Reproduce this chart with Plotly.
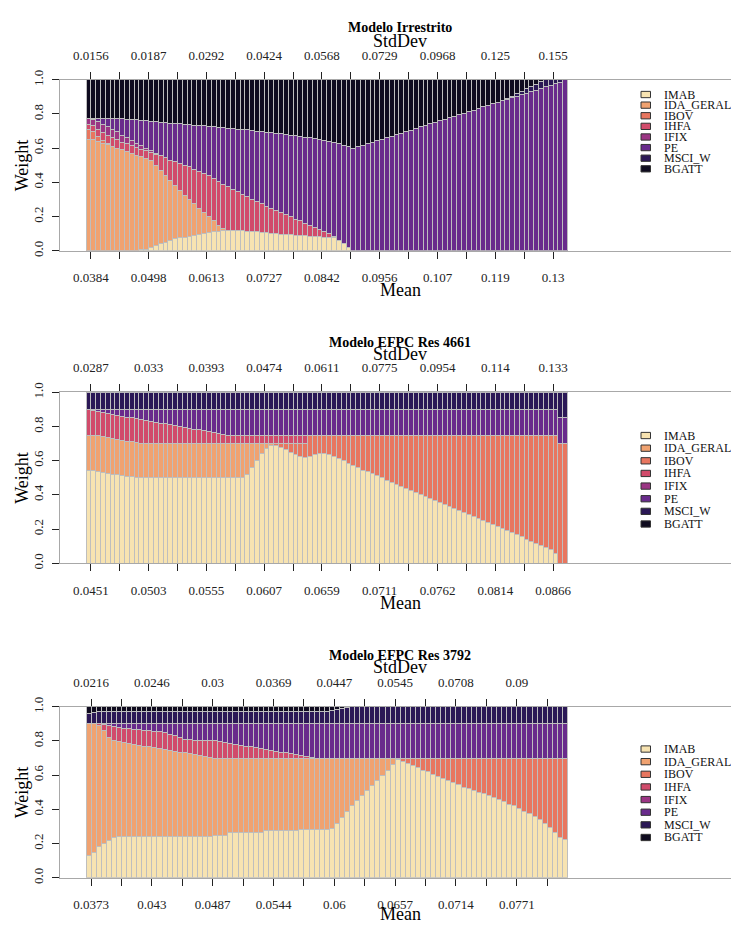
import plotly.graph_objects as go

W, H = 731, 927
FONT = "Liberation Serif"

assets = ["IMAB", "IDA_GERAL", "IBOV", "IHFA", "IFIX", "PE", "MSCI_W", "BGATT"]
colors = ["#F7E3B1", "#F0A270", "#E8765F", "#D14B6B", "#9B3584", "#692B8C", "#2B1856", "#0F0B1F"]

# ---------------- Panel 1: Modelo Irrestrito (100 frontier points) ----------------
p1_mean_labels = ["0.0384", "0.0498", "0.0613", "0.0727", "0.0842", "0.0956", "0.107", "0.119", "0.13"]
p1_std_labels = ["0.0156", "0.0187", "0.0292", "0.0424", "0.0568", "0.0729", "0.0968", "0.125", "0.155"]

p1_imab = [
    0, 0, 0, 0, 0, 0, 0, 0, 0, 0,
    0, 0.005, 0.01, 0.02, 0.03, 0.04, 0.05, 0.06, 0.07, 0.075,
    0.08, 0.085, 0.09, 0.095, 0.10, 0.105, 0.11, 0.115, 0.12, 0.12,
    0.12, 0.118, 0.116, 0.114, 0.112, 0.11, 0.108, 0.105, 0.102, 0.10,
    0.098, 0.096, 0.094, 0.092, 0.09, 0.088, 0.086, 0.084, 0.082, 0.08,
    0.078, 0.075, 0.06, 0.04, 0.02, 0, 0, 0, 0, 0,
    0, 0, 0, 0, 0, 0, 0, 0, 0, 0,
    0, 0, 0, 0, 0, 0, 0, 0, 0, 0,
    0, 0, 0, 0, 0, 0, 0, 0, 0, 0,
    0, 0, 0, 0, 0, 0, 0, 0, 0, 0,
]
p1_ida = [
    0.65, 0.65, 0.64, 0.63, 0.62, 0.61, 0.60, 0.59, 0.58, 0.57,
    0.56, 0.545, 0.53, 0.51, 0.47, 0.43, 0.39, 0.35, 0.31, 0.275,
    0.245, 0.215, 0.185, 0.155, 0.125, 0.095, 0.065, 0.035, 0.01, 0,
    0, 0, 0, 0, 0, 0, 0, 0, 0, 0,
    0, 0, 0, 0, 0, 0, 0, 0, 0, 0,
    0, 0, 0, 0, 0, 0, 0, 0, 0, 0,
    0, 0, 0, 0, 0, 0, 0, 0, 0, 0,
    0, 0, 0, 0, 0, 0, 0, 0, 0, 0,
    0, 0, 0, 0, 0, 0, 0, 0, 0, 0,
    0, 0, 0, 0, 0, 0, 0, 0, 0, 0,
]
p1_ibov = [
    0.06, 0.045, 0.03, 0.015, 0.005, 0, 0, 0, 0, 0,
    0, 0, 0, 0, 0, 0, 0, 0, 0, 0,
    0, 0, 0, 0, 0, 0, 0, 0, 0, 0,
    0, 0, 0, 0, 0, 0, 0, 0, 0, 0,
    0, 0, 0, 0, 0, 0, 0, 0, 0, 0,
    0, 0, 0, 0, 0, 0, 0, 0, 0, 0,
    0, 0, 0, 0, 0, 0, 0, 0, 0, 0,
    0, 0, 0, 0, 0, 0, 0, 0, 0, 0,
    0, 0, 0, 0, 0, 0, 0, 0, 0, 0,
    0, 0, 0, 0, 0, 0, 0, 0, 0, 0,
]
p1_ihfa = [
    0.03, 0.035, 0.04, 0.045, 0.05, 0.05, 0.05, 0.045, 0.045, 0.045,
    0.045, 0.045, 0.045, 0.045, 0.065, 0.085, 0.105, 0.12, 0.14, 0.16,
    0.175, 0.19, 0.20, 0.215, 0.225, 0.24, 0.245, 0.255, 0.26, 0.255,
    0.24, 0.227, 0.214, 0.201, 0.188, 0.18, 0.167, 0.155, 0.148, 0.135,
    0.127, 0.114, 0.106, 0.093, 0.085, 0.072, 0.064, 0.051, 0.043, 0.03,
    0.022, 0.01, 0, 0, 0, 0, 0, 0, 0, 0,
    0, 0, 0, 0, 0, 0, 0, 0, 0, 0,
    0, 0, 0, 0, 0, 0, 0, 0, 0, 0,
    0, 0, 0, 0, 0, 0, 0, 0, 0, 0,
    0, 0, 0, 0, 0, 0, 0, 0, 0, 0,
]
p1_ifix = [
    0.035, 0.04, 0.045, 0.05, 0.05, 0.05, 0.045, 0.04, 0.035, 0.03,
    0.025, 0.02, 0.015, 0.01, 0.005, 0, 0, 0, 0, 0,
    0, 0, 0, 0, 0, 0, 0, 0, 0, 0,
    0, 0, 0, 0, 0, 0, 0, 0, 0, 0,
    0, 0, 0, 0, 0, 0, 0, 0, 0, 0,
    0, 0, 0, 0, 0, 0, 0, 0, 0, 0,
    0, 0, 0, 0, 0, 0, 0, 0, 0, 0,
    0, 0, 0, 0, 0, 0, 0, 0, 0, 0,
    0, 0, 0, 0, 0, 0, 0, 0, 0, 0,
    0, 0, 0, 0, 0, 0, 0, 0, 0, 0,
]
p1_pe = [
    0, 0.005, 0.02, 0.035, 0.05, 0.065, 0.079, 0.097, 0.11, 0.122,
    0.135, 0.147, 0.16, 0.172, 0.185, 0.197, 0.205, 0.217, 0.225, 0.232,
    0.24, 0.247, 0.26, 0.267, 0.28, 0.287, 0.305, 0.317, 0.33, 0.342,
    0.355, 0.367, 0.38, 0.392, 0.405, 0.41, 0.422, 0.433, 0.44, 0.451,
    0.458, 0.47, 0.476, 0.487, 0.493, 0.504, 0.51, 0.52, 0.525, 0.535,
    0.54, 0.548, 0.565, 0.577, 0.588, 0.598, 0.607, 0.616, 0.625, 0.634,
    0.643, 0.652, 0.661, 0.670, 0.679, 0.688, 0.697, 0.706, 0.715, 0.724,
    0.733, 0.742, 0.751, 0.760, 0.769, 0.778, 0.787, 0.796, 0.805, 0.814,
    0.823, 0.832, 0.841, 0.850, 0.859, 0.868, 0.877, 0.886, 0.895, 0.904,
    0.913, 0.922, 0.931, 0.940, 0.949, 0.958, 0.967, 0.976, 0.985, 1.0,
]
p1_msci = [
    0, 0, 0, 0, 0, 0, 0, 0, 0, 0,
    0, 0, 0, 0, 0, 0, 0, 0, 0, 0,
    0, 0, 0, 0, 0, 0, 0, 0, 0, 0,
    0, 0, 0, 0, 0, 0, 0, 0, 0, 0,
    0, 0, 0, 0, 0, 0, 0, 0, 0, 0,
    0, 0, 0, 0, 0, 0, 0, 0, 0, 0,
    0, 0, 0, 0, 0, 0, 0, 0, 0, 0,
    0, 0, 0, 0, 0, 0, 0, 0, 0, 0,
    0, 0, 0, 0, 0, 0, 0, 0.005, 0.01, 0.015,
    0.02, 0.025, 0.03, 0.035, 0.04, 0.042, 0.033, 0.024, 0.015, 0,
]
p1_bgatt = [
    0.225, 0.225, 0.225, 0.225, 0.225, 0.225, 0.226, 0.228, 0.23, 0.233,
    0.235, 0.238, 0.24, 0.243, 0.245, 0.248, 0.25, 0.253, 0.255, 0.258,
    0.26, 0.263, 0.265, 0.268, 0.27, 0.273, 0.275, 0.278, 0.28, 0.283,
    0.285, 0.288, 0.29, 0.293, 0.295, 0.30, 0.303, 0.307, 0.31, 0.314,
    0.317, 0.32, 0.324, 0.328, 0.332, 0.336, 0.34, 0.345, 0.35, 0.355,
    0.36, 0.367, 0.375, 0.383, 0.392, 0.402, 0.393, 0.384, 0.375, 0.366,
    0.357, 0.348, 0.339, 0.330, 0.321, 0.312, 0.303, 0.294, 0.285, 0.276,
    0.267, 0.258, 0.249, 0.240, 0.231, 0.222, 0.213, 0.204, 0.195, 0.186,
    0.177, 0.168, 0.159, 0.150, 0.141, 0.132, 0.123, 0.109, 0.095, 0.081,
    0.067, 0.053, 0.039, 0.025, 0.011, 0, 0, 0, 0, 0,
]

# ---------------- Panel 2: Modelo EFPC Res 4661 (100 frontier points) ----------------
p2_mean_labels = ["0.0451", "0.0503", "0.0555", "0.0607", "0.0659", "0.0711", "0.0762", "0.0814", "0.0866"]
p2_std_labels = ["0.0287", "0.033", "0.0393", "0.0474", "0.0611", "0.0775", "0.0954", "0.114", "0.133"]

p2_imab = [
    0.545, 0.545, 0.535, 0.53, 0.525, 0.52, 0.52, 0.515, 0.51, 0.505,
    0.50, 0.50, 0.50, 0.50, 0.50, 0.50, 0.50, 0.50, 0.50, 0.50,
    0.50, 0.50, 0.50, 0.50, 0.50, 0.50, 0.50, 0.50, 0.50, 0.50,
    0.50, 0.50, 0.50, 0.52, 0.56, 0.60, 0.64, 0.67, 0.69, 0.69,
    0.68, 0.665, 0.65, 0.635, 0.625, 0.62, 0.625, 0.635, 0.64, 0.64,
    0.635, 0.625, 0.61, 0.60, 0.585, 0.57, 0.56, 0.545, 0.535, 0.523,
    0.511, 0.499, 0.487, 0.475, 0.463, 0.451, 0.44, 0.428, 0.416, 0.404,
    0.392, 0.38, 0.368, 0.356, 0.344, 0.333, 0.321, 0.309, 0.297, 0.285,
    0.273, 0.261, 0.249, 0.237, 0.225, 0.214, 0.202, 0.19, 0.178, 0.166,
    0.154, 0.142, 0.13, 0.118, 0.106, 0.094, 0.082, 0.06, 0, 0,
]
p2_ida = [
    0.205, 0.203, 0.21, 0.21, 0.21, 0.21, 0.205, 0.205, 0.205, 0.205,
    0.205, 0.20, 0.20, 0.20, 0.20, 0.20, 0.20, 0.20, 0.20, 0.20,
    0.20, 0.20, 0.20, 0.20, 0.20, 0.20, 0.20, 0.20, 0.20, 0.20,
    0.20, 0.20, 0.20, 0.18, 0.14, 0.10, 0.06, 0.03, 0.01, 0,
    0, 0, 0, 0, 0, 0, 0, 0, 0, 0,
    0, 0, 0, 0, 0, 0, 0, 0, 0, 0,
    0, 0, 0, 0, 0, 0, 0, 0, 0, 0,
    0, 0, 0, 0, 0, 0, 0, 0, 0, 0,
    0, 0, 0, 0, 0, 0, 0, 0, 0, 0,
    0, 0, 0, 0, 0, 0, 0, 0, 0, 0,
]
p2_ibov = [
    0, 0, 0, 0, 0, 0, 0, 0, 0, 0,
    0, 0, 0, 0, 0, 0, 0, 0, 0, 0,
    0, 0, 0, 0, 0, 0, 0, 0, 0, 0,
    0, 0, 0, 0, 0, 0, 0, 0, 0, 0.01,
    0.02, 0.035, 0.05, 0.065, 0.075, 0.08, 0.125, 0.115, 0.11, 0.11,
    0.115, 0.125, 0.14, 0.15, 0.165, 0.18, 0.19, 0.205, 0.215, 0.227,
    0.239, 0.251, 0.263, 0.275, 0.287, 0.299, 0.31, 0.322, 0.334, 0.346,
    0.358, 0.37, 0.382, 0.394, 0.406, 0.417, 0.429, 0.441, 0.453, 0.465,
    0.477, 0.489, 0.501, 0.513, 0.525, 0.536, 0.548, 0.56, 0.572, 0.584,
    0.596, 0.608, 0.62, 0.632, 0.644, 0.656, 0.668, 0.69, 0.70, 0.70,
]
p2_ihfa = [
    0.15, 0.147, 0.14, 0.14, 0.14, 0.14, 0.14, 0.14, 0.14, 0.14,
    0.14, 0.14, 0.135, 0.13, 0.125, 0.12, 0.115, 0.11, 0.105, 0.10,
    0.095, 0.09, 0.085, 0.08, 0.075, 0.07, 0.065, 0.06, 0.055, 0.05,
    0.05, 0.05, 0.05, 0.05, 0.05, 0.05, 0.05, 0.05, 0.05, 0.05,
    0.05, 0.05, 0.05, 0.05, 0.05, 0.05, 0, 0, 0, 0,
    0, 0, 0, 0, 0, 0, 0, 0, 0, 0,
    0, 0, 0, 0, 0, 0, 0, 0, 0, 0,
    0, 0, 0, 0, 0, 0, 0, 0, 0, 0,
    0, 0, 0, 0, 0, 0, 0, 0, 0, 0,
    0, 0, 0, 0, 0, 0, 0, 0, 0, 0,
]
p2_ifix = [
    0, 0, 0, 0, 0, 0, 0, 0, 0, 0,
    0, 0, 0, 0, 0, 0, 0, 0, 0, 0,
    0, 0, 0, 0, 0, 0, 0, 0, 0, 0,
    0, 0, 0, 0, 0, 0, 0, 0, 0, 0,
    0, 0, 0, 0, 0, 0, 0, 0, 0, 0,
    0, 0, 0, 0, 0, 0, 0, 0, 0, 0,
    0, 0, 0, 0, 0, 0, 0, 0, 0, 0,
    0, 0, 0, 0, 0, 0, 0, 0, 0, 0,
    0, 0, 0, 0, 0, 0, 0, 0, 0, 0,
    0, 0, 0, 0, 0, 0, 0, 0, 0, 0,
]
p2_pe = [
    0, 0.005, 0.015, 0.02, 0.025, 0.03, 0.035, 0.04, 0.045, 0.05,
    0.055, 0.06, 0.065, 0.07, 0.075, 0.08, 0.085, 0.09, 0.095, 0.10,
    0.105, 0.11, 0.115, 0.12, 0.125, 0.13, 0.135, 0.14, 0.145, 0.15,
    0.15, 0.15, 0.15, 0.15, 0.15, 0.15, 0.15, 0.15, 0.15, 0.15,
    0.15, 0.15, 0.15, 0.15, 0.15, 0.15, 0.15, 0.15, 0.15, 0.15,
    0.15, 0.15, 0.15, 0.15, 0.15, 0.15, 0.15, 0.15, 0.15, 0.15,
    0.15, 0.15, 0.15, 0.15, 0.15, 0.15, 0.15, 0.15, 0.15, 0.15,
    0.15, 0.15, 0.15, 0.15, 0.15, 0.15, 0.15, 0.15, 0.15, 0.15,
    0.15, 0.15, 0.15, 0.15, 0.15, 0.15, 0.15, 0.15, 0.15, 0.15,
    0.15, 0.15, 0.15, 0.15, 0.15, 0.15, 0.15, 0.15, 0.15, 0.15,
]
p2_msci = [
    0.10, 0.10, 0.10, 0.10, 0.10, 0.10, 0.10, 0.10, 0.10, 0.10,
    0.10, 0.10, 0.10, 0.10, 0.10, 0.10, 0.10, 0.10, 0.10, 0.10,
    0.10, 0.10, 0.10, 0.10, 0.10, 0.10, 0.10, 0.10, 0.10, 0.10,
    0.10, 0.10, 0.10, 0.10, 0.10, 0.10, 0.10, 0.10, 0.10, 0.10,
    0.10, 0.10, 0.10, 0.10, 0.10, 0.10, 0.10, 0.10, 0.10, 0.10,
    0.10, 0.10, 0.10, 0.10, 0.10, 0.10, 0.10, 0.10, 0.10, 0.10,
    0.10, 0.10, 0.10, 0.10, 0.10, 0.10, 0.10, 0.10, 0.10, 0.10,
    0.10, 0.10, 0.10, 0.10, 0.10, 0.10, 0.10, 0.10, 0.10, 0.10,
    0.10, 0.10, 0.10, 0.10, 0.10, 0.10, 0.10, 0.10, 0.10, 0.10,
    0.10, 0.10, 0.10, 0.10, 0.10, 0.10, 0.10, 0.10, 0.15, 0.15,
]
p2_bgatt = [
    0, 0, 0, 0, 0, 0, 0, 0, 0, 0,
    0, 0, 0, 0, 0, 0, 0, 0, 0, 0,
    0, 0, 0, 0, 0, 0, 0, 0, 0, 0,
    0, 0, 0, 0, 0, 0, 0, 0, 0, 0,
    0, 0, 0, 0, 0, 0, 0, 0, 0, 0,
    0, 0, 0, 0, 0, 0, 0, 0, 0, 0,
    0, 0, 0, 0, 0, 0, 0, 0, 0, 0,
    0, 0, 0, 0, 0, 0, 0, 0, 0, 0,
    0, 0, 0, 0, 0, 0, 0, 0, 0, 0,
    0, 0, 0, 0, 0, 0, 0, 0, 0, 0,
]

# ---------------- Panel 3: Modelo EFPC Res 3792 (95 frontier points) ----------------
p3_mean_labels = ["0.0373", "0.043", "0.0487", "0.0544", "0.06", "0.0657", "0.0714", "0.0771"]
p3_std_labels = ["0.0216", "0.0246", "0.03", "0.0369", "0.0447", "0.0545", "0.0708", "0.09"]

p3_imab = [
    0.13, 0.15, 0.18, 0.20, 0.22, 0.235, 0.24, 0.24, 0.24, 0.24,
    0.24, 0.24, 0.24, 0.24, 0.24, 0.24, 0.24, 0.24, 0.24, 0.24,
    0.24, 0.24, 0.24, 0.24, 0.24, 0.25, 0.25, 0.25, 0.265, 0.265,
    0.265, 0.265, 0.265, 0.265, 0.265, 0.275, 0.275, 0.275, 0.275, 0.275,
    0.275, 0.275, 0.285, 0.285, 0.285, 0.285, 0.285, 0.285, 0.29, 0.32,
    0.35, 0.39, 0.42, 0.45, 0.48, 0.51, 0.54, 0.57, 0.60, 0.63,
    0.66, 0.69, 0.68, 0.67, 0.655, 0.645, 0.63, 0.62, 0.605, 0.595,
    0.58, 0.57, 0.555, 0.545, 0.53, 0.52, 0.51, 0.50, 0.49, 0.48,
    0.47, 0.455, 0.445, 0.43, 0.42, 0.405, 0.39, 0.375, 0.36, 0.34,
    0.32, 0.295, 0.265, 0.235, 0.225,
]
p3_ida = [
    0.77, 0.75, 0.71, 0.66, 0.60, 0.565, 0.555, 0.55, 0.545, 0.54,
    0.535, 0.53, 0.525, 0.52, 0.515, 0.51, 0.505, 0.50, 0.495, 0.49,
    0.485, 0.48, 0.475, 0.47, 0.465, 0.45, 0.45, 0.45, 0.435, 0.435,
    0.435, 0.435, 0.435, 0.435, 0.435, 0.425, 0.425, 0.425, 0.425, 0.425,
    0.425, 0.425, 0.415, 0.415, 0.415, 0.415, 0.415, 0.415, 0.41, 0.38,
    0.35, 0.31, 0.28, 0.25, 0.22, 0.19, 0.16, 0.13, 0.10, 0.07,
    0.04, 0.01, 0, 0, 0, 0, 0, 0, 0, 0,
    0, 0, 0, 0, 0, 0, 0, 0, 0, 0,
    0, 0, 0, 0, 0, 0, 0, 0, 0, 0,
    0, 0, 0, 0, 0,
]
p3_ibov = [
    0, 0, 0, 0, 0, 0, 0, 0, 0, 0,
    0, 0, 0, 0, 0, 0, 0, 0, 0, 0,
    0, 0, 0, 0, 0, 0, 0, 0, 0, 0,
    0, 0, 0, 0, 0, 0, 0, 0, 0, 0,
    0, 0, 0, 0, 0, 0, 0, 0, 0, 0,
    0, 0, 0, 0, 0, 0, 0, 0, 0, 0,
    0, 0, 0.02, 0.03, 0.045, 0.055, 0.07, 0.08, 0.095, 0.105,
    0.12, 0.13, 0.145, 0.155, 0.17, 0.18, 0.19, 0.20, 0.21, 0.22,
    0.23, 0.245, 0.255, 0.27, 0.28, 0.295, 0.31, 0.325, 0.34, 0.36,
    0.38, 0.405, 0.435, 0.465, 0.475,
]
p3_ihfa = [
    0, 0, 0.01, 0.035, 0.07, 0.085, 0.085, 0.085, 0.085, 0.088,
    0.09, 0.092, 0.095, 0.097, 0.099, 0.10, 0.095, 0.09, 0.085, 0.08,
    0.082, 0.085, 0.087, 0.09, 0.095, 0.10, 0.095, 0.09, 0.085, 0.08,
    0.075, 0.07, 0.065, 0.06, 0.055, 0.05, 0.045, 0.04, 0.035, 0.03,
    0.025, 0.02, 0.015, 0.01, 0.005, 0, 0, 0, 0, 0,
    0, 0, 0, 0, 0, 0, 0, 0, 0, 0,
    0, 0, 0, 0, 0, 0, 0, 0, 0, 0,
    0, 0, 0, 0, 0, 0, 0, 0, 0, 0,
    0, 0, 0, 0, 0, 0, 0, 0, 0, 0,
    0, 0, 0, 0, 0,
]
p3_ifix = [
    0, 0, 0, 0, 0, 0, 0, 0, 0, 0,
    0, 0, 0, 0, 0, 0, 0, 0, 0, 0,
    0, 0, 0, 0, 0, 0, 0, 0, 0, 0,
    0, 0, 0, 0, 0, 0, 0, 0, 0, 0,
    0, 0, 0, 0, 0, 0, 0, 0, 0, 0,
    0, 0, 0, 0, 0, 0, 0, 0, 0, 0,
    0, 0, 0, 0, 0, 0, 0, 0, 0, 0,
    0, 0, 0, 0, 0, 0, 0, 0, 0, 0,
    0, 0, 0, 0, 0, 0, 0, 0, 0, 0,
    0, 0, 0, 0, 0,
]
p3_pe = [
    0, 0, 0, 0.005, 0.01, 0.015, 0.02, 0.025, 0.03, 0.032,
    0.035, 0.038, 0.04, 0.043, 0.046, 0.05, 0.06, 0.07, 0.08, 0.09,
    0.093, 0.095, 0.098, 0.10, 0.10, 0.10, 0.105, 0.11, 0.115, 0.12,
    0.125, 0.13, 0.135, 0.14, 0.145, 0.15, 0.155, 0.16, 0.165, 0.17,
    0.175, 0.18, 0.185, 0.19, 0.195, 0.20, 0.20, 0.20, 0.20, 0.20,
    0.20, 0.20, 0.20, 0.20, 0.20, 0.20, 0.20, 0.20, 0.20, 0.20,
    0.20, 0.20, 0.20, 0.20, 0.20, 0.20, 0.20, 0.20, 0.20, 0.20,
    0.20, 0.20, 0.20, 0.20, 0.20, 0.20, 0.20, 0.20, 0.20, 0.20,
    0.20, 0.20, 0.20, 0.20, 0.20, 0.20, 0.20, 0.20, 0.20, 0.20,
    0.20, 0.20, 0.20, 0.20, 0.20,
]
p3_msci = [
    0.06, 0.065, 0.075, 0.075, 0.075, 0.075, 0.075, 0.075, 0.075, 0.075,
    0.075, 0.075, 0.075, 0.075, 0.075, 0.075, 0.075, 0.075, 0.075, 0.075,
    0.075, 0.075, 0.075, 0.075, 0.075, 0.075, 0.075, 0.075, 0.075, 0.075,
    0.075, 0.075, 0.075, 0.075, 0.075, 0.075, 0.075, 0.075, 0.075, 0.075,
    0.075, 0.075, 0.075, 0.075, 0.075, 0.075, 0.075, 0.075, 0.08, 0.085,
    0.09, 0.095, 0.10, 0.10, 0.10, 0.10, 0.10, 0.10, 0.10, 0.10,
    0.10, 0.10, 0.10, 0.10, 0.10, 0.10, 0.10, 0.10, 0.10, 0.10,
    0.10, 0.10, 0.10, 0.10, 0.10, 0.10, 0.10, 0.10, 0.10, 0.10,
    0.10, 0.10, 0.10, 0.10, 0.10, 0.10, 0.10, 0.10, 0.10, 0.10,
    0.10, 0.10, 0.10, 0.10, 0.10,
]
p3_bgatt = [
    0.04, 0.035, 0.025, 0.025, 0.025, 0.025, 0.025, 0.025, 0.025, 0.025,
    0.025, 0.025, 0.025, 0.025, 0.025, 0.025, 0.025, 0.025, 0.025, 0.025,
    0.025, 0.025, 0.025, 0.025, 0.025, 0.025, 0.025, 0.025, 0.025, 0.025,
    0.025, 0.025, 0.025, 0.025, 0.025, 0.025, 0.025, 0.025, 0.025, 0.025,
    0.025, 0.025, 0.025, 0.025, 0.025, 0.025, 0.025, 0.025, 0.02, 0.015,
    0.01, 0.005, 0, 0, 0, 0, 0, 0, 0, 0,
    0, 0, 0, 0, 0, 0, 0, 0, 0, 0,
    0, 0, 0, 0, 0, 0, 0, 0, 0, 0,
    0, 0, 0, 0, 0, 0, 0, 0, 0, 0,
    0, 0, 0, 0, 0,
]

y_tick_vals = [0, 0.2, 0.4, 0.6, 0.8, 1.0]
y_tick_text = ["0.0", "0.2", "0.4", "0.6", "0.8", "1.0"]

# ---------------- layout geometry (pixels) ----------------
panels = [
    dict(title="Modelo Irrestrito",
         series=[p1_imab, p1_ida, p1_ibov, p1_ihfa, p1_ifix, p1_pe, p1_msci, p1_bgatt],
         mean=p1_mean_labels, std=p1_std_labels,
         top=71, bottom=245, title_y=18, std_y=32, mean_y=285,
         leg_y0=86, leg_dy=10.8),
    dict(title="Modelo EFPC Res 4661",
         series=[p2_imab, p2_ida, p2_ibov, p2_ihfa, p2_ifix, p2_pe, p2_msci, p2_bgatt],
         mean=p2_mean_labels, std=p2_std_labels,
         top=389, bottom=563, title_y=338, std_y=350, mean_y=603,
         leg_y0=433, leg_dy=12.86),
    dict(title="Modelo EFPC Res 3792",
         series=[p3_imab, p3_ida, p3_ibov, p3_ihfa, p3_ifix, p3_pe, p3_msci, p3_bgatt],
         mean=p3_mean_labels, std=p3_std_labels,
         top=709, bottom=883, title_y=657, std_y=669, mean_y=920,
         leg_y0=752, leg_dy=12.86),
]

PLOT_L = 60      # left edge of plot box (px)
BAR_L = 86       # left edge of first bar (px)
BAR_R = 567.5    # right edge of last bar (px)


def fx(p):
    return p / W


def fy(p):
    return 1 - p / H


fig = go.Figure()
annotations = []
shapes = []
layout_axes = {}

for k, pn in enumerate(panels):
    n = len(pn["series"][0])
    for s in pn["series"]:
        assert len(s) == n, (pn["title"], len(s), n)
    centers = [i - 0.5 for i in range(1, n + 1)]
    unit = (BAR_R - BAR_L) / n
    x0 = -(BAR_L - PLOT_L) / unit
    x1 = x0 + (W - PLOT_L) / unit

    xb = 2 * k + 1
    xt = 2 * k + 2
    yk = k + 1
    xb_name = "x" if xb == 1 else f"x{xb}"
    xt_name = f"x{xt}"
    y_name = "y" if yk == 1 else f"y{yk}"

    for name, col, vals in zip(assets, colors, pn["series"]):
        fig.add_trace(go.Bar(
            x=centers, y=vals, width=1.0, name=name,
            marker=dict(color=col, line=dict(color="#BEBEBE", width=1)),
            xaxis=xb_name, yaxis=y_name, showlegend=False, hoverinfo="skip",
        ))
    # empty companion trace so that the top (StdDev) axis is drawn
    fig.add_trace(go.Scatter(x=centers, y=[None] * n, mode="lines", xaxis=xt_name,
                             yaxis=y_name, showlegend=False, hoverinfo="skip"))

    ticks = list(range(1, n + 1, 6))
    bottom_text = [pn["mean"][j // 2] if j % 2 == 0 else "" for j in range(len(ticks))]
    top_text = [pn["std"][j // 2] if j % 2 == 0 else "" for j in range(len(ticks))]

    ydom = [fy(pn["bottom"]), fy(pn["top"])]
    common_x = dict(domain=[fx(PLOT_L), 1.0], range=[x0, x1], tickvals=ticks,
                    ticks="outside", ticklen=7, tickwidth=1, tickcolor="#222",
                    showline=True, linecolor="#A8A8A8", linewidth=1,
                    showgrid=False, zeroline=False, fixedrange=True, autorange=False,
                    tickfont=dict(family=FONT, size=13, color="#222"))
    layout_axes["xaxis" if xb == 1 else f"xaxis{xb}"] = dict(
        common_x, anchor=y_name, side="bottom", ticktext=bottom_text, ticklabelstandoff=8)
    layout_axes[f"xaxis{xt}"] = dict(
        common_x, anchor=y_name, side="top", overlaying=xb_name, ticktext=top_text,
        ticklabelstandoff=7)
    layout_axes["yaxis" if yk == 1 else f"yaxis{yk}"] = dict(
        domain=ydom, range=[0, 1], anchor=xb_name, tickvals=y_tick_vals, ticktext=y_tick_text,
        tickangle=-90, ticks="outside", ticklen=7, tickwidth=1, tickcolor="#222",
        showline=True, linecolor="#A8A8A8", linewidth=1, showgrid=False, zeroline=False,
        fixedrange=True, autorange=False,
        tickfont=dict(family=FONT, size=13, color="#222"), ticklabelstandoff=4)

    cx = fx(400)
    annotations.append(dict(text=f"<b>{pn['title']}</b>", x=cx, y=fy(pn["title_y"]),
                            xref="paper", yref="paper", showarrow=False, xanchor="center",
                            yanchor="middle", font=dict(family=FONT, size=14, color="black")))
    annotations.append(dict(text="StdDev", x=cx, y=fy(pn["std_y"]), xref="paper", yref="paper",
                            showarrow=False, xanchor="center", yanchor="middle",
                            font=dict(family=FONT, size=18, color="black")))
    annotations.append(dict(text="Mean", x=cx, y=fy(pn["mean_y"]), xref="paper", yref="paper",
                            showarrow=False, xanchor="center", yanchor="middle",
                            font=dict(family=FONT, size=18, color="black")))
    annotations.append(dict(text="Weight", x=fx(22), y=fy((pn["top"] + pn["bottom"]) / 2),
                            xref="paper", yref="paper", showarrow=False, xanchor="center",
                            yanchor="middle", textangle=-90,
                            font=dict(family=FONT, size=18, color="black")))

    # legend (drawn manually to match R's tight spacing)
    for j, (name, col) in enumerate(zip(assets, colors)):
        yc = pn["leg_y0"] + j * pn["leg_dy"]
        shapes.append(dict(type="rect", xref="paper", yref="paper",
                           x0=fx(641), x1=fx(650.5), y0=fy(yc + 3.2), y1=fy(yc - 3.2),
                           fillcolor=col, line=dict(color="#333333", width=1)))
        annotations.append(dict(text=name, x=fx(662), y=fy(yc), xref="paper", yref="paper",
                                showarrow=False, xanchor="left", yanchor="middle",
                                font=dict(family=FONT, size=12, color="#111")))

fig.update_layout(
    width=W, height=H, autosize=False,
    margin=dict(l=0, r=0, t=0, b=0, pad=0),
    paper_bgcolor="white", plot_bgcolor="white",
    barmode="stack", bargap=0,
    showlegend=False,
    annotations=annotations, shapes=shapes,
    font=dict(family=FONT, color="black"),
    **layout_axes,
)

# remove the browser's default 8px body margin so the figure sits at the window's origin
fig.write_html("out.html", include_plotlyjs=True, full_html=True,
               config={"displayModeBar": False, "staticPlot": True},
               post_script="document.body.style.margin='0px';"
                           "document.body.style.padding='0px';"
                           "document.body.style.overflow='hidden';")
